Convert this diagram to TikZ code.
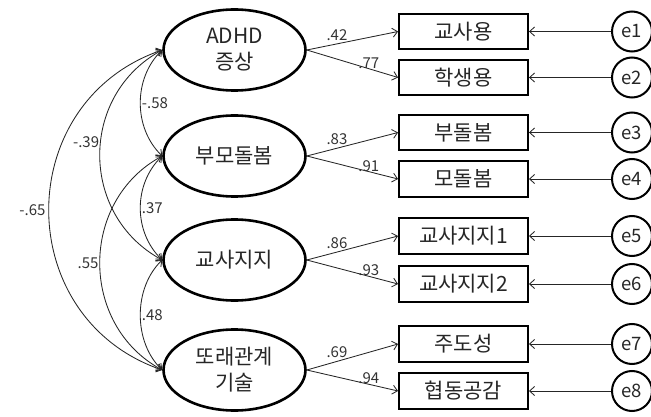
\documentclass[tikz,border=0pt]{standalone}
\usepackage{fontspec}
\setmainfont{Noto Sans CJK KR}
\usetikzlibrary{shapes.geometric, arrows.meta}
\begin{document}
\begin{tikzpicture}[x=1pt,y=-1pt,
  latent/.style={ellipse, draw=black, line width=2.6pt, minimum width=142pt, minimum height=81pt, inner sep=0pt, align=center, font=\fontsize{21}{26}\selectfont, text=black!85},
  observed/.style={rectangle, draw=black, line width=2.4pt, minimum width=128.5pt, minimum height=35.5pt, inner sep=0pt, font=\fontsize{21}{24}\selectfont, text=black!85},
  errnode/.style={circle, draw=black, line width=2pt, minimum size=40pt, inner sep=0pt, font=\fontsize{18.5}{20}\selectfont, text=black!85},
  conn/.style={line width=0.85pt, draw=black!85},
  load/.style={conn, -{Straight Barb[length=5pt,width=9pt]}},
  cov/.style={conn, {Straight Barb[length=5pt,width=8pt]}-{Straight Barb[length=5pt,width=8pt]}},
  coef/.style={font=\fontsize{15}{17}\selectfont, text=black!80, inner sep=1pt}
]
\useasboundingbox (0,0) rectangle (651,417);

% latent variables
\node[latent] (L1) at (234.5,50) {ADHD\\증상};
\node[latent] (L2) at (234.5,156) {부모돌봄};
\node[latent] (L3) at (234.5,260) {교사지지};
\node[latent] (L4) at (234.5,370) {또래관계\\기술};

% observed variables
\node[observed] (o1) at (463.5,31.5) {교사용};
\node[observed] (o2) at (463.5,77.5) {학생용};
\node[observed] (o3) at (463.5,132.5) {부돌봄};
\node[observed] (o4) at (463.5,179) {모돌봄};
\node[observed] (o5) at (463.5,236) {교사지지1};
\node[observed] (o6) at (463.5,284) {교사지지2};
\node[observed] (o7) at (463.5,344) {주도성};
\node[observed] (o8) at (463.5,391) {협동공감};

% error terms
\node[errnode] (e1) at (632,31.5) {e1};
\node[errnode] (e2) at (632,77.5) {e2};
\node[errnode] (e3) at (632,132.5) {e3};
\node[errnode] (e4) at (632,179) {e4};
\node[errnode] (e5) at (632,236) {e5};
\node[errnode] (e6) at (632,284) {e6};
\node[errnode] (e7) at (632,344) {e7};
\node[errnode] (e8) at (632,391) {e8};

% loadings
\draw[load] (L1.east) -- node[coef,pos=.33,above=2pt]{.42} (o1.west);
\draw[load] (L1.east) -- node[coef,pos=.68,above=-1pt]{.77} (o2.west);
\draw[load] (L2.east) -- node[coef,pos=.33,above=2pt]{.83} (o3.west);
\draw[load] (L2.east) -- node[coef,pos=.68,above=-1pt]{.91} (o4.west);
\draw[load] (L3.east) -- node[coef,pos=.33,above=2pt]{.86} (o5.west);
\draw[load] (L3.east) -- node[coef,pos=.68,above=-1pt]{.93} (o6.west);
\draw[load] (L4.east) -- node[coef,pos=.33,above=2pt]{.69} (o7.west);
\draw[load] (L4.east) -- node[coef,pos=.68,above=-1pt]{.94} (o8.west);

% error arrows
\foreach \i in {1,...,8} {
  \draw[load] (e\i.west) -- (o\i.east);
}

% covariances
\draw[cov] (L1.west) .. controls +(-29,28) and +(-29,-28) .. node[coef,pos=.5,anchor=west]{-.58} (L2.west);
\draw[cov] (L2.west) .. controls +(-29,28) and +(-29,-28) .. node[coef,pos=.5,anchor=west]{.37} (L3.west);
\draw[cov] (L3.west) .. controls +(-29,28) and +(-29,-28) .. node[coef,pos=.5,anchor=west]{.48} (L4.west);
\draw[cov] (L1.west) .. controls +(-83,45) and +(-83,-45) .. node[coef,pos=.45,anchor=east]{-.39} (L3.west);
\draw[cov] (L2.west) .. controls +(-83,45) and +(-83,-45) .. node[coef,pos=.5,anchor=east]{.55} (L4.west);
\draw[cov] (L1.west) .. controls +(-151,52) and +(-151,-52) .. node[coef,pos=.5,anchor=east,inner sep=3pt]{-.65} (L4.west);

\end{tikzpicture}
\end{document}
